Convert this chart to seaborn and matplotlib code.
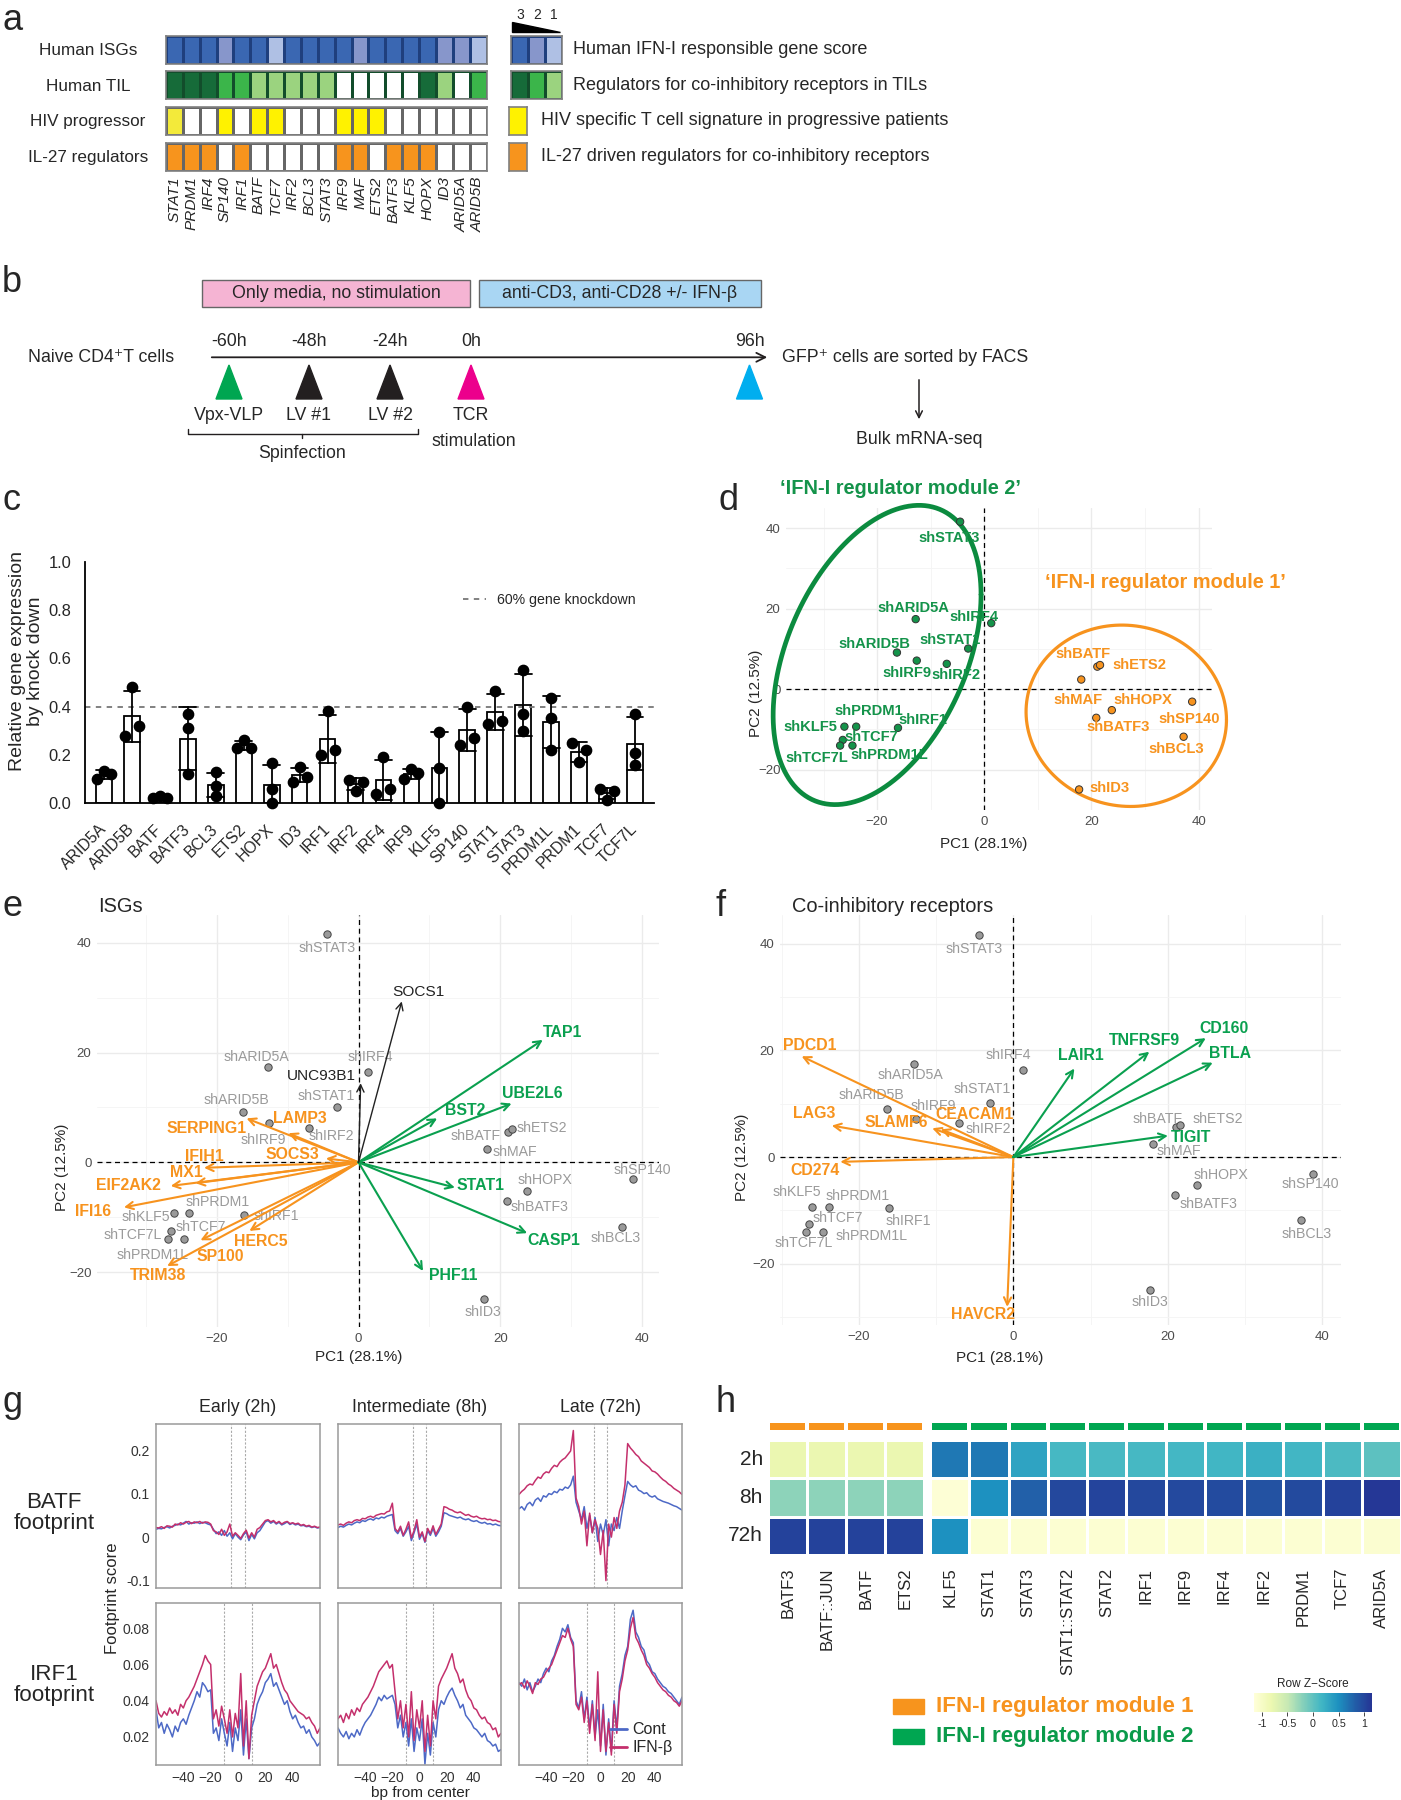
import numpy as np
import pandas as pd
import matplotlib
matplotlib.use("Agg")
import matplotlib.pyplot as plt
from matplotlib import font_manager
from matplotlib.colors import ListedColormap, LinearSegmentedColormap
from matplotlib.patches import Polygon, Rectangle
from matplotlib.lines import Line2D
import seaborn as sns

sns.set_style("white")
names = {f.name for f in font_manager.fontManager.ttflist}
NARROW = "Liberation Sans Narrow" if "Liberation Sans Narrow" in names else "Liberation Sans"
K = 1.0 if NARROW == "Liberation Sans Narrow" else 0.85
plt.rcParams["font.family"] = ["Liberation Sans", "DejaVu Sans"]
NF = [NARROW, "DejaVu Sans"]

# ---------------- data ----------------
# a: literature overlap
a_genes = ["STAT1", "PRDM1", "IRF4", "SP140", "IRF1", "BATF", "TCF7", "IRF2", "BCL3", "STAT3",
           "IRF9", "MAF", "ETS2", "BATF3", "KLF5", "HOPX", "ID3", "ARID5A", "ARID5B"]
isg_score = [3, 3, 3, 2, 3, 3, 1, 3, 3, 3, 3, 2, 3, 3, 3, 3, 2, 2, 1]
til_score = [3, 3, 3, 2, 2, 1, 1, 1, 1, 1, 0, 0, 0, 0, 0, 3, 1, 0, 2]
hiv_score = [1, 0, 0, 2, 0, 2, 2, 0, 0, 0, 2, 2, 2, 0, 0, 0, 0, 0, 0]
il27_score = [1, 1, 1, 0, 1, 0, 0, 0, 0, 0, 1, 1, 0, 1, 1, 1, 0, 0, 0]

# c: knockdown efficiency (3 replicates)
c_genes = ["ARID5A", "ARID5B", "BATF", "BATF3", "BCL3", "ETS2", "HOPX", "ID3", "IRF1", "IRF2",
           "IRF4", "IRF9", "KLF5", "SP140", "STAT1", "STAT3", "PRDM1L", "PRDM1", "TCF7", "TCF7L"]
rep1 = [0.10, 0.28, 0.02, 0.37, 0.13, 0.23, 0.165, 0.09, 0.20, 0.095, 0.04, 0.10, 0.295, 0.24, 0.33, 0.55, 0.435, 0.25, 0.06, 0.37]
rep2 = [0.135, 0.48, 0.03, 0.31, 0.07, 0.26, 0.0, 0.15, 0.38, 0.05, 0.19, 0.14, 0.145, 0.40, 0.465, 0.37, 0.355, 0.17, 0.015, 0.21]
rep3 = [0.12, 0.32, 0.02, 0.12, 0.03, 0.23, 0.06, 0.11, 0.22, 0.09, 0.06, 0.125, 0.0, 0.27, 0.34, 0.30, 0.22, 0.22, 0.05, 0.16]

# d/e/f: PCA of knockdown samples
pca_samples = ["shSTAT3", "shARID5A", "shIRF4", "shSTAT1", "shARID5B", "shIRF9", "shIRF2", "shBATF",
               "shETS2", "shMAF", "shSP140", "shHOPX", "shBATF3", "shIRF1", "shPRDM1", "shKLF5",
               "shTCF7", "shTCF7L", "shPRDM1L", "shBCL3", "shID3"]
pc1 = [-4.5, -12.8, 1.3, -3.0, -16.3, -12.6, -7.0, 21.1, 21.6, 18.1, 38.8, 23.8, 20.9, -16.1,
       -23.9, -26.1, -26.4, -26.9, -24.6, 37.2, 17.7]
pc2 = [41.6, 17.4, 16.4, 10.1, 9.1, 7.1, 6.3, 5.6, 6.0, 2.4, -3.1, -5.2, -7.1, -9.6,
       -9.3, -9.3, -12.6, -14.0, -14.0, -11.8, -24.9]
module = ["2", "2", "2", "2", "2", "2", "2", "1", "1", "1", "1", "1", "1", "2",
          "2", "2", "2", "2", "2", "1", "1"]

isg_genes = ["SERPING1", "LAMP3", "SOCS3", "IFIH1", "MX1", "EIF2AK2", "IFI16", "HERC5", "SP100",
             "TRIM38", "TAP1", "UBE2L6", "BST2", "STAT1", "CASP1", "PHF11", "SOCS1", "UNC93B1"]
isg_pc1 = [-15.8, -9.9, -4.6, -21.8, -23.0, -26.5, -33.1, -15.4, -22.3, -27.0,
           26.0, 21.6, 11.1, 13.6, 23.8, 9.1, 6.1, 0.3]
isg_pc2 = [8.0, 5.3, 0.7, -1.0, -3.8, -4.3, -8.2, -12.5, -14.2, -18.9,
           22.3, 10.7, 8.0, -4.6, -12.9, -19.8, 29.3, 14.4]
isg_group = ["m1"] * 10 + ["m2"] * 6 + ["other"] * 2

coinh_genes = ["PDCD1", "LAG3", "SLAMF6", "CEACAM1", "CD274", "HAVCR2",
               "LAIR1", "TNFRSF9", "CD160", "BTLA", "TIGIT"]
coinh_pc1 = [-27.4, -23.5, -10.5, -9.4, -22.4, -0.8, 7.9, 17.6, 24.9, 25.8, 20.0]
coinh_pc2 = [18.9, 5.9, 5.4, 5.2, -0.9, -28.1, 16.6, 19.75, 22.3, 17.7, 4.0]
coinh_group = ["m1"] * 6 + ["m2"] * 5

# g: footprints, bp -60..60 step 2
bp = np.arange(-60, 61, 2)
g_stages = ["Early (2h)", "Intermediate (8h)", "Late (72h)"]
batf_early_cont = [0.018, 0.020, 0.019, 0.022, 0.024, 0.021, 0.025, 0.027, 0.030, 0.028, 0.032, 0.036, 0.030, 0.033, 0.032, 0.035, 0.031, 0.034, 0.033, 0.030,
                   0.028, 0.018, 0.008, 0.012, 0.004, 0.015, 0.002, 0.010, -0.004, 0.008, 0.000, -0.006, 0.005, 0.012, -0.008, 0.006, -0.004, 0.010, 0.015, 0.025,
                   0.035, 0.038, 0.032, 0.036, 0.030, 0.034, 0.028, 0.031, 0.035, 0.029, 0.032, 0.028, 0.030, 0.026, 0.027, 0.024, 0.025, 0.022, 0.024, 0.021, 0.022]
batf_early_ifn = [0.022, 0.021, 0.024, 0.020, 0.026, 0.025, 0.023, 0.030, 0.028, 0.033, 0.030, 0.034, 0.036, 0.031, 0.035, 0.033, 0.036, 0.032, 0.035, 0.034,
                  0.030, 0.015, 0.012, 0.006, 0.018, 0.004, 0.012, 0.030, 0.002, 0.010, 0.004, -0.003, 0.008, 0.016, -0.002, 0.010, 0.000, 0.018, 0.022, 0.030,
                  0.038, 0.040, 0.035, 0.038, 0.032, 0.036, 0.030, 0.034, 0.036, 0.031, 0.033, 0.030, 0.032, 0.027, 0.029, 0.025, 0.027, 0.023, 0.025, 0.022, 0.023]
batf_mid_cont = [0.022, 0.025, 0.023, 0.027, 0.030, 0.028, 0.032, 0.035, 0.033, 0.038, 0.036, 0.040, 0.042, 0.039, 0.044, 0.042, 0.046, 0.044, 0.048, 0.050,
                 0.052, 0.015, 0.008, 0.020, 0.002, 0.012, 0.025, -0.008, 0.010, 0.030, -0.005, 0.008, -0.012, 0.015, 0.004, 0.020, 0.002, 0.012, 0.025, 0.056,
                 0.054, 0.050, 0.048, 0.046, 0.044, 0.046, 0.042, 0.040, 0.042, 0.038, 0.036, 0.038, 0.034, 0.032, 0.034, 0.030, 0.031, 0.028, 0.030, 0.027, 0.026]
batf_mid_ifn = [0.028, 0.030, 0.027, 0.032, 0.035, 0.033, 0.038, 0.040, 0.038, 0.043, 0.042, 0.046, 0.048, 0.045, 0.050, 0.052, 0.054, 0.053, 0.058, 0.060,
                0.078, 0.020, 0.012, 0.025, 0.004, 0.018, 0.035, -0.002, 0.015, 0.040, 0.000, 0.012, -0.010, 0.020, 0.008, 0.026, 0.006, 0.018, 0.030, 0.070,
                0.068, 0.064, 0.062, 0.058, 0.056, 0.058, 0.054, 0.050, 0.052, 0.048, 0.046, 0.048, 0.044, 0.042, 0.043, 0.040, 0.041, 0.038, 0.039, 0.036, 0.035]
batf_late_cont = [0.065, 0.070, 0.062, 0.075, 0.080, 0.072, 0.085, 0.090, 0.082, 0.095, 0.092, 0.100, 0.098, 0.105, 0.102, 0.110, 0.108, 0.115, 0.112, 0.120,
                  0.140, 0.080, 0.060, 0.040, 0.070, 0.020, 0.050, 0.010, 0.045, -0.010, 0.030, 0.005, 0.040, -0.020, 0.030, 0.015, 0.045, 0.020, 0.060, 0.095,
                  0.128, 0.120, 0.115, 0.118, 0.108, 0.105, 0.100, 0.102, 0.095, 0.092, 0.095, 0.088, 0.085, 0.082, 0.080, 0.078, 0.075, 0.072, 0.070, 0.066, 0.062]
batf_late_ifn = [0.098, 0.105, 0.110, 0.118, 0.122, 0.120, 0.130, 0.138, 0.135, 0.145, 0.150, 0.148, 0.158, 0.165, 0.162, 0.172, 0.178, 0.182, 0.190, 0.198,
                 0.245, 0.090, 0.070, 0.030, 0.060, -0.020, 0.055, 0.010, 0.040, 0.020, -0.040, 0.015, -0.100, 0.030, 0.000, 0.045, 0.020, 0.060, 0.080, 0.120,
                 0.215, 0.205, 0.198, 0.190, 0.185, 0.175, 0.170, 0.165, 0.160, 0.152, 0.150, 0.145, 0.138, 0.132, 0.128, 0.122, 0.118, 0.112, 0.108, 0.104, 0.098]
irf1_early_cont = [0.035, 0.025, 0.028, 0.022, 0.027, 0.024, 0.020, 0.026, 0.023, 0.028, 0.030, 0.027, 0.032, 0.036, 0.040, 0.045, 0.042, 0.050, 0.048, 0.045,
                   0.046, 0.022, 0.025, 0.018, 0.030, 0.022, 0.015, 0.028, 0.012, 0.025, 0.018, 0.035, 0.010, 0.030, 0.008, 0.025, 0.030, 0.038, 0.042, 0.045,
                   0.050, 0.052, 0.055, 0.048, 0.050, 0.046, 0.042, 0.038, 0.040, 0.034, 0.030, 0.032, 0.028, 0.025, 0.026, 0.022, 0.024, 0.020, 0.018, 0.015, 0.017]
irf1_early_ifn = [0.040, 0.033, 0.031, 0.034, 0.032, 0.036, 0.033, 0.035, 0.032, 0.038, 0.036, 0.040, 0.042, 0.045, 0.048, 0.052, 0.056, 0.060, 0.065, 0.062,
                  0.060, 0.030, 0.035, 0.026, 0.037, 0.030, 0.022, 0.035, 0.020, 0.033, 0.025, 0.055, 0.015, 0.040, 0.008, 0.032, 0.040, 0.048, 0.052, 0.056,
                  0.058, 0.062, 0.066, 0.058, 0.060, 0.055, 0.050, 0.046, 0.044, 0.040, 0.038, 0.036, 0.034, 0.033, 0.032, 0.030, 0.031, 0.028, 0.026, 0.022, 0.025]
irf1_mid_cont = [0.025, 0.022, 0.020, 0.023, 0.019, 0.022, 0.020, 0.024, 0.021, 0.025, 0.028, 0.030, 0.032, 0.035, 0.038, 0.042, 0.040, 0.043, 0.041, 0.042,
                 0.043, 0.038, 0.025, 0.032, 0.020, 0.028, 0.015, 0.030, 0.012, 0.025, 0.018, 0.030, 0.005, 0.022, 0.010, 0.028, 0.020, 0.035, 0.040, 0.038,
                 0.042, 0.045, 0.047, 0.043, 0.040, 0.036, 0.038, 0.032, 0.030, 0.028, 0.025, 0.024, 0.022, 0.020, 0.022, 0.018, 0.017, 0.015, 0.016, 0.012, 0.013]
irf1_mid_ifn = [0.030, 0.032, 0.028, 0.033, 0.030, 0.035, 0.032, 0.036, 0.034, 0.038, 0.040, 0.042, 0.045, 0.048, 0.052, 0.056, 0.058, 0.060, 0.062, 0.058,
                0.060, 0.045, 0.030, 0.040, 0.025, 0.038, 0.020, 0.045, 0.018, 0.035, 0.025, 0.040, 0.012, 0.032, 0.015, 0.040, 0.030, 0.048, 0.052, 0.055,
                0.058, 0.062, 0.066, 0.058, 0.055, 0.050, 0.052, 0.046, 0.042, 0.040, 0.036, 0.035, 0.032, 0.030, 0.031, 0.028, 0.027, 0.024, 0.025, 0.020, 0.022]
irf1_late_cont = [0.050, 0.048, 0.052, 0.046, 0.050, 0.045, 0.048, 0.052, 0.050, 0.055, 0.058, 0.056, 0.062, 0.065, 0.070, 0.074, 0.080, 0.078, 0.082, 0.075,
                  0.072, 0.040, 0.036, 0.045, 0.030, 0.042, 0.025, 0.040, 0.020, 0.035, 0.015, 0.038, 0.010, 0.030, 0.012, 0.040, 0.025, 0.048, 0.055, 0.065,
                  0.070, 0.085, 0.090, 0.078, 0.075, 0.070, 0.068, 0.062, 0.060, 0.056, 0.055, 0.052, 0.050, 0.048, 0.047, 0.045, 0.044, 0.042, 0.040, 0.038, 0.042]
irf1_late_ifn = [0.049, 0.050, 0.047, 0.051, 0.048, 0.044, 0.050, 0.049, 0.052, 0.053, 0.056, 0.058, 0.060, 0.064, 0.068, 0.072, 0.076, 0.075, 0.080, 0.074,
                 0.070, 0.038, 0.035, 0.042, 0.028, 0.040, 0.022, 0.038, 0.018, 0.056, 0.012, 0.035, 0.012, 0.028, 0.010, 0.038, 0.022, 0.045, 0.052, 0.062,
                 0.068, 0.080, 0.086, 0.075, 0.072, 0.068, 0.065, 0.060, 0.058, 0.055, 0.053, 0.050, 0.048, 0.046, 0.045, 0.043, 0.042, 0.040, 0.039, 0.037, 0.040]

# h: TF activity row z-scores
h_module1 = ["BATF3", "BATF::JUN", "BATF", "ETS2"]
h_module2 = ["KLF5", "STAT1", "STAT3", "STAT1::STAT2", "STAT2", "IRF1", "IRF9", "IRF4",
             "IRF2", "PRDM1", "TCF7", "ARID5A"]
h_times = ["2h", "8h", "72h"]
z_2h = [-0.81, -0.81, -0.81, -0.81, 0.65, 0.65, 0.33, 0.14, 0.12, 0.14, 0.15, 0.17, 0.22, 0.16, 0.10, 0.01]
z_8h = [-0.23, -0.23, -0.23, -0.23, -1.11, 0.49, 0.81, 1.00, 1.02, 1.00, 0.99, 0.97, 0.92, 0.98, 1.04, 1.12]
z_72h = [1.04, 1.04, 1.04, 1.04, 0.49, -1.10, -1.10, -1.10, -1.10, -1.10, -1.10, -1.10, -1.10, -1.10, -1.10, -1.08]

# ---------------- layout ----------------
W, H = 1401, 1800
fig = plt.figure(figsize=(W / 100, H / 100), dpi=100)
ov = fig.add_axes([0, 0, 1, 1])
ov.set_xlim(0, W)
ov.set_ylim(H, 0)
ov.axis("off")
ov.set_zorder(10)


def box(x0, y0, x1, y1):
    return fig.add_axes([x0 / W, 1 - y1 / H, (x1 - x0) / W, (y1 - y0) / H])


ORANGE = "#f7931e"
GREEN = "#14934a"
GREY_TXT = "#9a9a9a"

for letter, (lx, ly) in {"a": (2, 20), "b": (2, 283), "c": (2, 500), "d": (718, 500),
                         "e": (2, 907), "f": (716, 907), "g": (2, 1403), "h": (716, 1403)}.items():
    ov.text(lx, ly, letter, fontsize=26, va="center", ha="left")

# ---------------- a ----------------
a_rows = [("Human ISGs", isg_score, ["white", "#afc0e4", "#8796cb", "#3a67b2"], "#1f3f7d"),
          ("Human TIL", til_score, ["white", "#9bd37f", "#3bb54a", "#166b39"], "#124d2b"),
          ("HIV progressor", hiv_score, ["white", "#f3ea3a", "#fff200"], "#666666"),
          ("IL-27 regulators", il27_score, ["white", "#f7941d"], "#666666")]
a_row_y = [(35.7, 64), (71, 99.3), (106.7, 135), (142.7, 170.7)]
for i, ((name, vals, cols, lc), (y0, y1)) in enumerate(zip(a_rows, a_row_y)):
    ax = box(166, y0, 486.6, y1)
    sns.heatmap(pd.DataFrame([vals], columns=a_genes), cmap=ListedColormap(cols), vmin=-0.5,
                vmax=len(cols) - 0.5, cbar=False, linewidths=0.8, linecolor=lc, ax=ax,
                xticklabels=(i == 3), yticklabels=False)
    for s in ax.spines.values():
        s.set_visible(True)
        s.set_color("#808080")
        s.set_linewidth(1.2)
    ax.tick_params(length=0)
    ax.set_xlabel("")
    ov.text(88, (y0 + y1) / 2 + 1, name, ha="center", va="center", family=NF, fontsize=14.5 * K)
    if i == 3:
        ax.tick_params(axis="x", pad=4)
        for t in ax.get_xticklabels():
            t.set_rotation(90)
            t.set_fontstyle("italic")
            t.set_family(NF)
            t.set_fontsize(13 * K)
            t.set_va("top")

# a legend
for (name, vals, cols, lc), (y0, y1) in zip(a_rows[:2], a_row_y[:2]):
    ax = box(511, y0, 561.7, y1)
    sns.heatmap(pd.DataFrame([[3, 2, 1]]), cmap=ListedColormap(cols), vmin=-0.5, vmax=3.5,
                cbar=False, linewidths=0.8, linecolor=lc, ax=ax, xticklabels=False, yticklabels=False)
    for s in ax.spines.values():
        s.set_visible(True)
        s.set_color("#808080")
        s.set_linewidth(1.2)
for (name, vals, cols, lc), (y0, y1) in zip(a_rows[2:], a_row_y[2:]):
    ax = box(509.3, y0, 526.7, y1)
    sns.heatmap(pd.DataFrame([[len(cols) - 1]]), cmap=ListedColormap(cols), vmin=-0.5,
                vmax=len(cols) - 0.5, cbar=False, ax=ax, xticklabels=False, yticklabels=False)
    for s in ax.spines.values():
        s.set_visible(True)
        s.set_color("#808080")
        s.set_linewidth(1.2)
ov.add_patch(Polygon([(511.7, 21.7), (511.7, 31.7), (560, 31.7)], color="black"))
for lab, x in zip(["3", "2", "1"], [520.7, 537.3, 554]):
    ov.text(x, 15, lab, ha="center", va="center", fontsize=10)
legend_a = ["Human IFN-I responsible gene score", "Regulators for co-inhibitory receptors in TILs",
            "HIV specific T cell signature in progressive patients",
            "IL-27 driven regulators for co-inhibitory receptors"]
for txt, x, (y0, y1) in zip(legend_a, [572.7, 572.7, 540.7, 540.7], a_row_y):
    ov.text(x, (y0 + y1) / 2, txt, ha="left", va="center", fontsize=13)

# ---------------- b ----------------
bfont = dict(family=NF, fontsize=15 * K)
ov.add_patch(Rectangle((202, 280), 268, 27.3, facecolor="#f5b4d3", edgecolor="#666666", lw=1))
ov.add_patch(Rectangle((479, 280), 282, 27.3, facecolor="#a9d6f3", edgecolor="#666666", lw=1))
ov.text(336, 294, "Only media, no stimulation", ha="center", va="center", **bfont)
ov.text(620, 294, "anti-CD3, anti-CD28 +/- IFN-β", ha="center", va="center", **bfont)
ov.annotate("", xy=(770, 357.3), xytext=(209, 357.3),
            arrowprops=dict(arrowstyle="->", lw=1.3, color="#231f20", mutation_scale=16))
ov.text(28, 358, "Naive CD4⁺T cells", ha="left", va="center", **bfont)
b_times = ["-60h", "-48h", "-24h", "0h", "96h"]
b_colors = ["#00a651", "#231f20", "#231f20", "#ec008c", "#00aeef"]
b_steps = ["Vpx-VLP", "LV #1", "LV #2", "TCR", ""]
b_x = [229, 309, 390, 471, 749.5]
for t, c, s, x in zip(b_times, b_colors, b_steps, b_x):
    ov.text(x, 341, t, ha="center", va="center", **bfont)
    ov.add_patch(Polygon([(x, 365), (x - 13, 399), (x + 13, 399)], color=c))
    ov.text(x, 416, s, ha="center", va="center", **bfont)
ov.text(474, 441, "stimulation", ha="center", va="center", **bfont)
ov.plot([188, 188, 417.5, 417.5], [429, 434, 434, 429], color="#231f20", lw=1)
ov.plot([302, 302], [434, 438], color="#231f20", lw=1)
ov.text(302, 453, "Spinfection", ha="center", va="center", **bfont)
ov.text(782, 358, "GFP⁺ cells are sorted by FACS", ha="left", va="center", **bfont)
ov.annotate("", xy=(919, 422), xytext=(919, 377),
            arrowprops=dict(arrowstyle="->", lw=1.1, color="#231f20", mutation_scale=12))
ov.text(919, 440, "Bulk mRNA-seq", ha="center", va="center", **bfont)

# ---------------- c ----------------
ax_c = box(85, 561.7, 654, 803.3)
df_c = pd.DataFrame({"gene": c_genes * 3, "value": rep1 + rep2 + rep3})
sns.barplot(data=df_c, x="gene", y="value", order=c_genes, errorbar="sd", capsize=0.6,
            width=0.56, color="white", edgecolor="black", linewidth=1.3,
            err_kws={"color": "black", "linewidth": 1.3}, ax=ax_c)
spread = {"ARID5A", "ARID5B", "BATF", "ETS2", "ID3", "IRF1", "IRF2", "IRF4", "IRF9",
          "SP140", "STAT1", "PRDM1", "TCF7"}
for k, reps in enumerate([rep1, rep2, rep3]):
    off = [(-0.25, 0, 0.25)[k] if g in spread else 0 for g in c_genes]
    ax_c.scatter(np.arange(len(c_genes)) + np.array(off), reps, s=55, color="black", zorder=4,
                 clip_on=False)
ax_c.axhline(0.4, color="#777777", lw=1.3, ls=(0, (3, 3)), label="60% gene knockdown", zorder=1)
ax_c.set_xlim(-0.68, 19.68)
ax_c.set_ylim(0, 1.0)
ax_c.set_yticks([0, 0.2, 0.4, 0.6, 0.8, 1.0])
ax_c.set_yticklabels(["0.0", "0.2", "0.4", "0.6", "0.8", "1.0"], family=NF, fontsize=14 * K)
ax_c.set_xticks(range(len(c_genes)))
ax_c.set_xticklabels(c_genes, rotation=45, ha="right", va="center", rotation_mode="anchor",
                     family=NF, fontsize=13.5 * K)
sns.despine(ax=ax_c)
for s in ["left", "bottom"]:
    ax_c.spines[s].set_linewidth(1.3)
    ax_c.spines[s].set_color("black")
ax_c.tick_params(axis="both", length=7, width=1.3, color="black", direction="out")
ax_c.tick_params(axis="x", pad=10)
ax_c.tick_params(axis="y", pad=3)
ax_c.set_xlabel("")
ax_c.set_ylabel("Relative gene expression\nby knock down", fontsize=14, linespacing=1.1)
ax_c.yaxis.set_label_coords(-0.072, 0.59)
ax_c.legend(loc="center right", bbox_to_anchor=(0.99, 0.84), frameon=False, handlelength=1.6,
            prop={"family": NF, "size": 12 * K})


# ---------------- d, e, f ----------------
def pca_axes(ax, xlim, ylim):
    ax.set_xlim(*xlim)
    ax.set_ylim(*ylim)
    ax.set_xticks([-20, 0, 20, 40])
    ax.set_yticks([-20, 0, 20, 40])
    ax.set_xticks([-30, -10, 10, 30], minor=True)
    ax.set_yticks([-30, -10, 10, 30], minor=True)
    ax.grid(which="major", color="#ebebeb", lw=1.0)
    ax.grid(which="minor", color="#f4f4f4", lw=0.6)
    ax.set_axisbelow(True)
    for s in ax.spines.values():
        s.set_visible(False)
    ax.tick_params(which="both", length=0, labelsize=9.5, labelcolor="#4d4d4d", pad=4)
    ax.axhline(0, color="black", ls=(0, (4, 3)), lw=0.9, zorder=1)
    ax.axvline(0, color="black", ls=(0, (4, 3)), lw=0.9, zorder=1)
    ax.set_xlabel("")
    ax.set_ylabel("")


pca_df = pd.DataFrame({"sample": pca_samples, "pc1": pc1, "pc2": pc2, "module": module})

# d
ax_d = box(786, 508, 1212, 810)
sns.scatterplot(data=pca_df, x="pc1", y="pc2", hue="module", palette={"1": ORANGE, "2": GREEN},
                s=28, edgecolor="#333333", linewidth=0.7, legend=False, ax=ax_d, zorder=3)
pca_axes(ax_d, (-37, 42.5), (-27, 45))
rings = [((-20.0, 8.5), [[19.4, 0.0], [15.0, 34.0]], "#0b8b3f", 3.4),
         ((26.5, -6.6), [[18.7, 0.0], [-1.0, 22.5]], ORANGE, 2.3)]
tt = np.linspace(0, 2 * np.pi, 300)
for (cx, cy), L, col, lw in rings:
    pts = np.array(L) @ np.vstack([np.cos(tt), np.sin(tt)])
    ax_d.plot(cx + pts[0], cy + pts[1], color=col, lw=lw, clip_on=False, zorder=2)
d_label_xy = {"shSTAT3": (-6.6, 37.5), "shARID5A": (-13.2, 20.1), "shIRF4": (-2.0, 18.0),
              "shSTAT1": (-6.4, 12.1), "shARID5B": (-20.6, 11.3), "shIRF9": (-14.4, 4.0),
              "shIRF2": (-5.2, 3.6), "shBATF": (18.4, 8.7), "shETS2": (29.0, 6.0),
              "shMAF": (17.4, -2.6), "shHOPX": (29.6, -2.6), "shSP140": (38.2, -7.3),
              "shBATF3": (25.0, -9.5), "shBCL3": (35.8, -14.9), "shID3": (23.4, -24.6),
              "shIRF1": (-11.4, -7.7), "shPRDM1": (-21.6, -5.3), "shKLF5": (-32.4, -9.5),
              "shTCF7": (-21.0, -11.9), "shTCF7L": (-31.2, -17.2), "shPRDM1L": (-17.8, -16.3)}
for smp, m in zip(pca_samples, module):
    x, y = d_label_xy[smp]
    ax_d.text(x, y, smp, ha="center", va="center", color=ORANGE if m == "1" else GREEN,
              fontweight="bold", family=NF, fontsize=12.5 * K)
ov.text(900, 489, "‘IFN-I regulator module 2’", ha="center", va="center", color=GREEN,
        fontweight="bold", family=NF, fontsize=17 * K)
ov.text(1165, 583, "‘IFN-I regulator module 1’", ha="center", va="center", color=ORANGE,
        fontweight="bold", family=NF, fontsize=17 * K)
ov.text(984, 844, "PC1 (28.1%)", ha="center", va="center", fontsize=11)
ov.text(756, 693, "PC2 (12.5%)", ha="center", va="center", rotation=90, fontsize=11)

# e
ax_e = box(97, 915, 659, 1327)
sns.scatterplot(data=pca_df, x="pc1", y="pc2", color="#9a9a9a", s=28, edgecolor="#444444",
                linewidth=0.7, legend=False, ax=ax_e, zorder=3)
pca_axes(ax_e, (-36.9, 42.4), (-28.5, 45.05))
e_label_xy = {"shSTAT3": (-4.5, 39.1), "shARID5A": (-14.4, 19.2), "shIRF4": (1.6, 19.2),
              "shSTAT1": (-4.6, 12.0), "shARID5B": (-17.2, 11.3), "shIRF9": (-13.5, 4.0),
              "shIRF2": (-3.8, 4.8), "shBATF": (16.5, 4.8), "shETS2": (25.8, 6.3),
              "shMAF": (22.1, 1.8), "shSP140": (40.1, -1.4), "shHOPX": (26.3, -3.3),
              "shBATF3": (25.5, -8.1), "shIRF1": (-11.6, -9.8), "shPRDM1": (-19.9, -7.3),
              "shKLF5": (-30.0, -9.9), "shTCF7": (-22.3, -11.7), "shTCF7L": (-31.8, -13.3),
              "shPRDM1L": (-29.0, -16.8), "shBCL3": (36.3, -13.8), "shID3": (17.5, -27.3)}
isg_label_xy = {"SERPING1": (-21.5, 6.2), "LAMP3": (-8.3, 8.0), "SOCS3": (-9.3, 1.5),
                "IFIH1": (-21.8, 1.1), "MX1": (-24.3, -1.9), "EIF2AK2": (-32.4, -4.3),
                "IFI16": (-37.4, -8.9), "HERC5": (-13.8, -14.4), "SP100": (-19.5, -17.1),
                "TRIM38": (-28.3, -20.7), "TAP1": (28.8, 23.6), "UBE2L6": (24.5, 12.5),
                "BST2": (15.0, 9.5), "STAT1": (17.2, -4.3), "CASP1": (27.6, -14.3),
                "PHF11": (13.4, -20.7), "SOCS1": (8.4, 31.1), "UNC93B1": (-5.2, 15.7)}
coinh_label_xy = {"PDCD1": (-26.3, 21.0), "LAG3": (-25.8, 8.2), "SLAMF6": (-15.1, 6.5),
                  "CEACAM1": (-5.0, 8.0), "CD274": (-25.7, -2.6), "HAVCR2": (-3.9, -29.5),
                  "LAIR1": (8.7, 19.0), "TNFRSF9": (16.9, 21.9), "CD160": (27.3, 24.1),
                  "BTLA": (28.1, 19.4), "TIGIT": (23.0, 3.6)}
f_label_xy = {"shSTAT3": (-5.1, 39.1), "shARID5A": (-13.3, 15.4), "shIRF4": (-0.6, 19.1),
              "shSTAT1": (-4.0, 12.7), "shARID5B": (-18.4, 11.6), "shIRF9": (-10.4, 9.6),
              "shIRF2": (-3.2, 5.2), "shBATF": (18.7, 7.2), "shETS2": (26.5, 7.2),
              "shMAF": (21.4, 1.1), "shSP140": (38.4, -5.1), "shHOPX": (26.9, -3.4),
              "shBATF3": (25.2, -8.8), "shIRF1": (-13.6, -11.9), "shPRDM1": (-20.2, -7.3),
              "shKLF5": (-28.0, -6.6), "shTCF7": (-22.7, -11.5), "shTCF7L": (-27.1, -16.2),
              "shPRDM1L": (-18.3, -14.8), "shBCL3": (37.9, -14.4), "shID3": (17.7, -27.1)}
arrow_col = {"m1": ORANGE, "m2": "#0aa04f", "other": "#222222"}


def biplot(ax, lab_xy, genes, gx, gy, groups, glab_xy):
    for smp in pca_samples:
        x, y = lab_xy[smp]
        ax.text(x, y, smp, ha="center", va="center", color=GREY_TXT, family=NF, fontsize=12 * K)
    for g, x, y, grp in zip(genes, gx, gy, groups):
        c = arrow_col[grp]
        ax.annotate("", xy=(x, y), xytext=(0, 0),
                    arrowprops=dict(arrowstyle="->", color=c, lw=1.0 if grp == "other" else 1.5,
                                    shrinkA=0, shrinkB=0, mutation_scale=13), zorder=4)
        lx, ly = glab_xy[g]
        if grp == "other":
            ax.text(lx, ly, g, ha="center", va="center", color=c, family=NF, fontsize=13 * K)
        else:
            ax.text(lx, ly, g, ha="center", va="center", color=c, family=NF,
                    fontweight="bold", fontsize=13.5 * K)


biplot(ax_e, e_label_xy, isg_genes, isg_pc1, isg_pc2, isg_group, isg_label_xy)
ov.text(98, 907, "ISGs", ha="left", va="center", family=NF, fontsize=17 * K)
ov.text(359, 1357, "PC1 (28.1%)", ha="center", va="center", fontsize=11)
ov.text(62, 1167, "PC2 (12.5%)", ha="center", va="center", rotation=90, fontsize=11)

# f
ax_f = box(780, 915, 1341, 1325)
sns.scatterplot(data=pca_df, x="pc1", y="pc2", color="#9a9a9a", s=28, edgecolor="#444444",
                linewidth=0.7, legend=False, ax=ax_f, zorder=3)
pca_axes(ax_f, (-30.2, 42.4), (-31.5, 45.4))
biplot(ax_f, f_label_xy, coinh_genes, coinh_pc1, coinh_pc2, coinh_group, coinh_label_xy)
ov.text(792, 907, "Co-inhibitory receptors", ha="left", va="center", family=NF, fontsize=17 * K)
ov.text(1000, 1358, "PC1 (28.1%)", ha="center", va="center", fontsize=11)
ov.text(742, 1157, "PC2 (12.5%)", ha="center", va="center", rotation=90, fontsize=11)

# ---------------- g ----------------
g_series = {("BATF", 0): (batf_early_cont, batf_early_ifn), ("BATF", 1): (batf_mid_cont, batf_mid_ifn),
            ("BATF", 2): (batf_late_cont, batf_late_ifn), ("IRF1", 0): (irf1_early_cont, irf1_early_ifn),
            ("IRF1", 1): (irf1_mid_cont, irf1_mid_ifn), ("IRF1", 2): (irf1_late_cont, irf1_late_ifn)}
g_pal = {"Cont": "#4d69c6", "IFN-β": "#c4306c"}
g_cols_x = [(156, 320), (338, 501), (519, 682)]
g_rows_y = [(1424, 1588), (1603, 1765)]
g_ylim = [(-0.117, 0.26), (0.0045, 0.094)]
g_yticks = [[-0.1, 0, 0.1, 0.2], [0.02, 0.04, 0.06, 0.08]]
g_motif = [5, 10]
for r, tf in enumerate(["BATF", "IRF1"]):
    for c in range(3):
        ax = box(g_cols_x[c][0], g_rows_y[r][0], g_cols_x[c][1], g_rows_y[r][1])
        cont, ifn = g_series[(tf, c)]
        df = pd.DataFrame({"bp": np.concatenate([bp, bp]), "score": cont + ifn,
                           "condition": ["Cont"] * len(bp) + ["IFN-β"] * len(bp)})
        sns.lineplot(data=df, x="bp", y="score", hue="condition", hue_order=["Cont", "IFN-β"],
                     palette=g_pal, linewidth=1.1, estimator=None, legend=False, ax=ax)
        for v in (-g_motif[r], g_motif[r]):
            ax.axvline(v, color="#aaaaaa", lw=0.8, ls=(0, (2, 1.5)), zorder=0)
        ax.set_xlim(-60, 60)
        ax.set_ylim(*g_ylim[r])
        ax.set_xticks([-40, -20, 0, 20, 40])
        ax.set_yticks(g_yticks[r])
        ax.set_yticklabels(["%g" % v for v in g_yticks[r]] if c == 0 else [])
        if r == 0:
            ax.set_xticklabels([])
        ax.set_xlabel("")
        ax.set_ylabel("")
        for s in ax.spines.values():
            s.set_visible(True)
            s.set_color("#9a9a9a")
            s.set_linewidth(1.1)
        ax.tick_params(length=3, width=0.8, color="#888888", labelsize=10, labelcolor="#333333",
                       direction="out", pad=1.5)
        if r == 0:
            ax.set_title(g_stages[c], fontsize=15 * K, family=NF, pad=9)
        if r == 1 and c == 2:
            handles = [Line2D([], [], color=g_pal[k], lw=2) for k in ["Cont", "IFN-β"]]
            ax.legend(handles, ["Cont", "IFN-β"], loc="lower right", frameon=False, fontsize=11.5,
                      handlelength=1.1, handletextpad=0.3, borderaxespad=0.2, labelspacing=0.2)
ov.text(54, 1513, "BATF\nfootprint", ha="center", va="center", family=NF, fontsize=19 * K,
        linespacing=1.05)
ov.text(54, 1685, "IRF1\nfootprint", ha="center", va="center", family=NF, fontsize=19 * K,
        linespacing=1.05)
ov.text(112, 1598, "Footprint score", ha="center", va="center", rotation=90, fontsize=12)
ov.text(420, 1793, "bp from center", ha="center", va="center", family=NF, fontsize=13 * K)

# ---------------- h ----------------
zcmap = LinearSegmentedColormap.from_list(
    "ylgnbu", ["#ffffd9", "#edf8b1", "#c7e9b4", "#7fcdbb", "#41b6c4", "#1d91c0", "#225ea8", "#253494"])
n1 = len(h_module1)
z_rows = [z_2h, z_8h, z_72h]
df_h1 = pd.DataFrame([z[:n1] for z in z_rows], index=h_times, columns=h_module1)
df_h2 = pd.DataFrame([z[n1:] for z in z_rows], index=h_times, columns=h_module2)
a1 = box(768.4, 1420.7, 924.4, 1432.3)
a2 = box(930, 1420.7, 1401, 1432.3)
sns.heatmap(pd.DataFrame([[0] * n1]), cmap=ListedColormap(["#f7941d"]), cbar=False, linewidths=1.5,
            linecolor="white", xticklabels=False, yticklabels=False, ax=a1)
sns.heatmap(pd.DataFrame([[0] * len(h_module2)]), cmap=ListedColormap(["#00a651"]), cbar=False,
            linewidths=1.5, linecolor="white", xticklabels=False, yticklabels=False, ax=a2)
h1 = box(768.4, 1440, 924.4, 1555)
h2 = box(930, 1440, 1401, 1555)
cax = box(1254, 1693, 1372, 1712)
sns.heatmap(df_h1, cmap=zcmap, vmin=-1.155, vmax=1.155, cbar=False, linewidths=0.8,
            linecolor="white", ax=h1)
sns.heatmap(df_h2, cmap=zcmap, vmin=-1.155, vmax=1.155, cbar=True, cbar_ax=cax,
            cbar_kws={"orientation": "horizontal", "ticks": [-1, -0.5, 0, 0.5, 1]},
            linewidths=0.8, linecolor="white", yticklabels=False, ax=h2)
h1.set_yticklabels(h_times, rotation=0, fontsize=15)
h1.tick_params(axis="y", length=0, pad=4)
for ax in (h1, h2):
    ax.set_xticklabels(ax.get_xticklabels(), rotation=90, fontsize=12)
    ax.tick_params(axis="x", length=0, pad=9)
    ax.set_xlabel("")
    ax.set_ylabel("")
cax.set_xticklabels(["-1", "-0.5", "0", "0.5", "1"], family=NF, fontsize=9 * K)
cax.tick_params(length=3, width=0.6, pad=2)
cax.set_title("Row Z−Score", family=NF, fontsize=10 * K, pad=4)
for col, y0, txt in [("#f7941d", 1699, "IFN-I regulator module 1"),
                     ("#00a651", 1729, "IFN-I regulator module 2")]:
    ov.add_patch(Rectangle((893, y0), 30.5, 14.5, color=col))
    ov.text(935.6, y0 + 7.5, txt, ha="left", va="center", color=ORANGE if col == "#f7941d" else "#0a9a4a",
            fontweight="bold", family=NF, fontsize=19 * K)

fig.savefig("out.png", dpi=100)
